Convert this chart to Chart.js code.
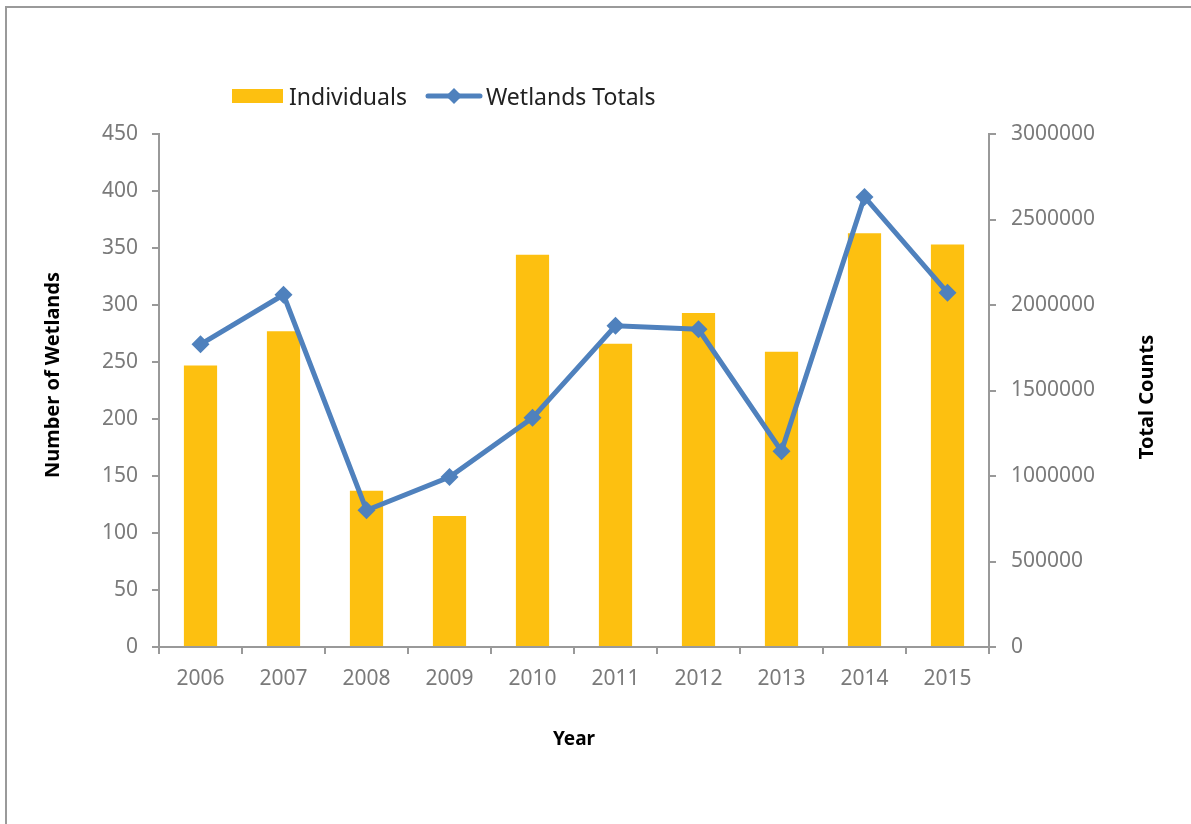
<!DOCTYPE html>
<html>
<head>
<meta charset="utf-8">
<script src="https://cdn.jsdelivr.net/npm/chart.js@4"></script>
<style>
  body { margin: 0; background: #fff; }
  #wrap { position: relative; width: 1191px; height: 824px; overflow: hidden; }
  #frame { position: absolute; left: 5px; top: 6px; width: 1300px; height: 900px;
           border-left: 2px solid #9a9a9a; border-top: 2px solid #9a9a9a; }
  #legend { position: absolute; left: 232px; top: 80px; font-family: "Noto Sans", sans-serif;
            font-size: 23px; color: #222; display: flex; align-items: center; white-space: nowrap; }
  #legend .box { width: 51px; height: 14px; background: #FDC010; margin-right: 6px; }
  #legend svg { margin: 0 3px 0 18px; }
</style>
</head>
<body>
<div id="wrap">
  <div id="frame"></div>
  <canvas id="myChart" width="1191" height="824"></canvas>
  <div id="legend">
    <div class="box"></div><span>Individuals</span>
    <svg width="58" height="20"><line x1="3" y1="10" x2="55" y2="10" stroke="#4F81BD" stroke-width="5" stroke-linecap="round"/>
      <polygon points="29,2 37,10 29,18 21,10" fill="#4F81BD"/></svg><span>Wetlands Totals</span>
  </div>
</div>
<script>
const years = ["2006", "2007", "2008", "2009", "2010", "2011", "2012", "2013", "2014", "2015"];
const individuals = [247, 277, 137, 115, 344, 266, 293, 259, 363, 353];
const wetlandsTotals = [1770000, 2060000, 800000, 994000, 1340000, 1878000, 1858000, 1145000, 2632000, 2072000];

const tickColor = "#7a7a7a";
const axisColor = "#999999";
const tickFont = { family: "Noto Sans", size: 21 };

// axis titles the way Excel puts them (both read bottom to top)
const sideTitles = {
  id: "sideTitles",
  afterDraw(chart) {
    const c = chart.ctx;
    c.save();
    c.font = "bold 20px 'Noto Sans'";
    c.fillStyle = "#000";
    c.textAlign = "center";
    c.textBaseline = "middle";
    c.translate(53, 375);
    c.rotate(-Math.PI / 2);
    c.fillText("Number of Wetlands", 0, 0);
    c.restore();
    c.save();
    c.font = "bold 20px 'Noto Sans'";
    c.fillStyle = "#000";
    c.textAlign = "center";
    c.textBaseline = "middle";
    c.translate(1147, 397);
    c.rotate(-Math.PI / 2);
    c.fillText("Total Counts", 0, 0);
    c.restore();
  }
};

var ctx = document.getElementById("myChart").getContext("2d");
var myChart = new Chart(ctx, {
  data: {
    labels: years,
    datasets: [
      {
        type: "line",
        label: "Wetlands Totals",
        data: wetlandsTotals,
        yAxisID: "y1",
        borderColor: "#4F81BD",
        backgroundColor: "#4F81BD",
        borderWidth: 5,
        pointStyle: "rectRot",
        pointRadius: 9,
        pointBorderWidth: 0,
        tension: 0,
        order: 0,
      },
      {
        type: "bar",
        label: "Individuals",
        data: individuals,
        yAxisID: "y",
        backgroundColor: "#FDC010",
        barPercentage: 0.4,
        categoryPercentage: 1.0,
        order: 1,
      },
    ],
  },
  options: {
    responsive: false,
    animation: false,
    layout: { padding: { top: 134, left: 0, right: 0, bottom: 0 } },
    plugins: { legend: { display: false }, tooltip: { enabled: false } },
    scales: {
      x: {
        grid: { drawOnChartArea: false, tickLength: 7, color: axisColor, lineWidth: 2, offset: true },
        border: { color: axisColor, width: 2 },
        ticks: { color: tickColor, font: tickFont, padding: 12, maxRotation: 0 },
        title: { display: true, text: "Year", color: "#000",
                 font: { family: "Noto Sans", size: 19, weight: "bold" }, padding: { top: 0, bottom: 73 } },
        afterFit(scale) { scale.height = 177; },
      },
      y: {
        position: "left",
        min: 0,
        max: 450,
        ticks: { stepSize: 50, color: tickColor, font: tickFont, padding: 14 },
        grid: { drawOnChartArea: false, tickLength: 7, color: axisColor, lineWidth: 2 },
        border: { color: axisColor, width: 2 },
        afterFit(scale) { scale.width = 159; },
      },
      y1: {
        position: "right",
        min: 0,
        max: 3000000,
        ticks: { stepSize: 500000, color: tickColor, font: tickFont, padding: 15,
                 callback: function(v) { return String(v); } },
        grid: { drawOnChartArea: false, tickLength: 7, color: axisColor, lineWidth: 2 },
        border: { color: axisColor, width: 2 },
        afterFit(scale) { scale.width = 202; },
      },
    },
  },
  plugins: [sideTitles],
});
</script>
</body>
</html>
